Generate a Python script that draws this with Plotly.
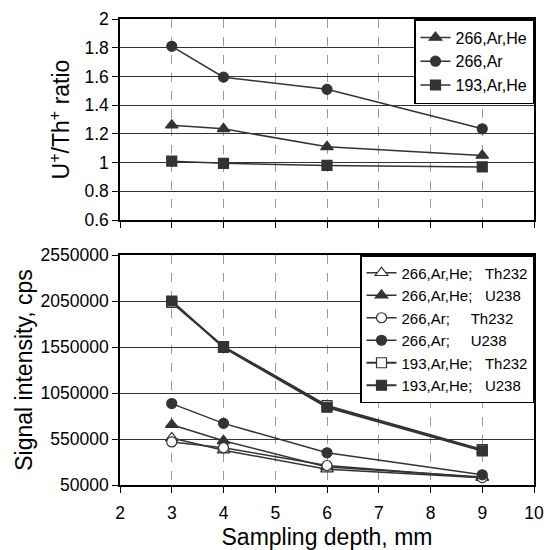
import plotly.graph_objects as go

depth = [3, 4, 6, 9]

ratio_266_ArHe = [1.26, 1.235, 1.11, 1.05]
ratio_266_Ar = [1.81, 1.595, 1.51, 1.235]
ratio_193_ArHe = [1.01, 0.995, 0.98, 0.97]

th232_266_ArHe = [562000, 428000, 222000, 129000]
u238_266_ArHe = [705000, 530000, 246000, 136000]
th232_266_Ar = [518000, 455000, 262000, 130000]
u238_266_Ar = [935000, 720000, 400000, 161000]
th232_193_ArHe = [2035000, 1555000, 912000, 434000]
u238_193_ArHe = [2050000, 1545000, 895000, 421000]

FONT = "Liberation Sans, Arial, sans-serif"
DARK = "#333333"
NB = "\u00a0"

fig = go.Figure()

def add(x, y, name, symbol, filled, xa, ya, legend, lw=1.5):
    fig.add_trace(go.Scatter(
        x=x, y=y, name=name, mode="lines+markers", xaxis=xa, yaxis=ya, legend=legend,
        line=dict(color=DARK, width=lw),
        marker=dict(symbol=symbol, size=10 if symbol != "triangle-up" else 11,
                    color=DARK if filled else "white",
                    line=dict(color=DARK, width=1.2)),
    ))

add(depth, ratio_266_ArHe, "266,Ar,He", "triangle-up", True, "x", "y", "legend")
add(depth, ratio_266_Ar, "266,Ar", "circle", True, "x", "y", "legend")
add(depth, ratio_193_ArHe, "193,Ar,He", "square", True, "x", "y", "legend")

add(depth, th232_266_ArHe, "266,Ar,He;" + NB * 3 + "Th232", "triangle-up", False, "x2", "y2", "legend2")
add(depth, u238_266_ArHe, "266,Ar,He;" + NB * 3 + "U238", "triangle-up", True, "x2", "y2", "legend2")
add(depth, th232_266_Ar, "266,Ar;" + NB * 5 + "Th232", "circle", False, "x2", "y2", "legend2")
add(depth, u238_266_Ar, "266,Ar;" + NB * 5 + "U238", "circle", True, "x2", "y2", "legend2")
add(depth, th232_193_ArHe, "193,Ar,He;" + NB * 3 + "Th232", "square", False, "x2", "y2", "legend2", lw=2)
add(depth, u238_193_ArHe, "193,Ar,He;" + NB * 3 + "U238", "square", True, "x2", "y2", "legend2", lw=2)

top_dom = [265 / 466, 1.0]
bot_dom = [0.0, 230 / 466]

xcommon = dict(range=[2, 10], dtick=1, tick0=2, showgrid=True, gridcolor="#999999",
               griddash="dash", gridwidth=1, ticks="outside", ticklen=6, tickcolor="black",
               showline=True, linecolor="black", linewidth=1.5, mirror=True, automargin=False,
               ticklabeloverflow="allow", zeroline=False,
               tickfont=dict(size=17.5, color="black", family=FONT))
ycommon = dict(showgrid=True, gridcolor="#333333", gridwidth=1, ticks="outside", ticklen=6,
               tickcolor="black", showline=True, linecolor="black", linewidth=1.5, automargin=False,
               mirror=True, zeroline=False, tickfont=dict(size=17.5, color="black", family=FONT))

LEGEND_STYLE = dict(x=1, xanchor="right", yanchor="top", bgcolor="white",
                    bordercolor="black", borderwidth=1.5, tracegroupgap=0, itemwidth=30)

fig.update_layout(
    width=544, height=550,
    margin=dict(l=120, r=10, t=19, b=65),
    paper_bgcolor="white", plot_bgcolor="white",
    font=dict(family=FONT, color="black"),
    showlegend=True,
    xaxis=dict(**xcommon, domain=[0, 1], anchor="y", showticklabels=False),
    yaxis=dict(**ycommon, domain=top_dom, anchor="x", range=[0.6, 2], dtick=0.2, tick0=0.6,
               title=dict(text="U<sup>+</sup>/Th<sup>+</sup> ratio", font=dict(size=23, family=FONT), standoff=8)),
    xaxis2=dict(**xcommon, domain=[0, 1], anchor="y2", ticklabelstandoff=5,
                title=dict(text="Sampling depth, mm", font=dict(size=23, family=FONT), standoff=8)),
    yaxis2=dict(**ycommon, domain=bot_dom, anchor="x2", range=[50000, 2550000],
                tickvals=[50000, 550000, 1050000, 1550000, 2050000, 2550000],
                ticktext=["50000", "550000", "1050000", "1550000", "2050000", "2550000"],
                title=dict(text="Signal intensity, cps", font=dict(size=23, family=FONT), standoff=2)),
    legend=dict(**LEGEND_STYLE, y=1, font=dict(size=16, family=FONT)),
    legend2=dict(**LEGEND_STYLE, y=bot_dom[1], font=dict(size=15, family=FONT)),
)

fig.write_html("out.html", config={"displayModeBar": False},
               post_script="document.body.style.margin='0';document.body.style.padding='0';")
